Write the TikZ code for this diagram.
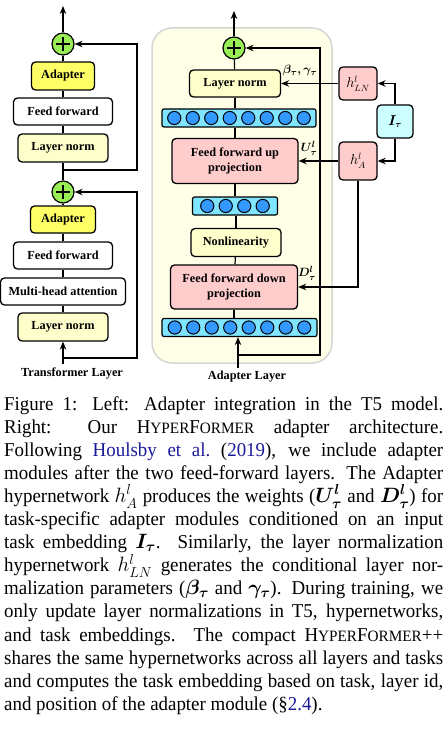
\documentclass[tikz,border=0pt]{standalone}
\usepackage{amsmath}
\usepackage{fontspec}
\setmainfont[FakeStretch=0.965]{Liberation Serif}
\newfontfamily\diagfont{Liberation Serif}
\usetikzlibrary{arrows.meta,calc}
\definecolor{adyel}{HTML}{FFFF66}
\definecolor{lnyel}{HTML}{FFFFCC}
\definecolor{pinkb}{HTML}{FFCCCC}
\definecolor{cyanb}{HTML}{CCFFFF}
\definecolor{rowc}{HTML}{80E5FF}
\definecolor{dotc}{HTML}{3399FF}
\definecolor{plusg}{HTML}{99EE55}
\definecolor{panelc}{HTML}{FFFFE8}
\definecolor{panelb}{HTML}{D5D5D5}
\definecolor{linkb}{HTML}{1A1A99}
\newcommand\boxfont{\diagfont\fontsize{12.3}{15.5}\selectfont\bfseries}
\newcommand\capfont{\fontsize{19.6}{23.1}\selectfont}
\newcommand\labfont{\fontsize{12.5}{14}\selectfont}
\newcommand\hfont{\fontsize{13.5}{15}\selectfont}
\newcommand\HFsc[1]{{\fontsize{15.8}{23.1}\selectfont #1}}
\newcommand\HF{H\HFsc{YPER}F\HFsc{ORMER}}
\newcommand\capline[1]{\hbox to 439pt{#1}}
\tikzset{
  box/.style={draw, line width=1.3pt, rounded corners=4pt, minimum height=27pt,
    inner sep=0pt, font=\boxfont, align=center},
  hbox/.style={draw, line width=1.3pt, rounded corners=4pt, inner sep=0pt,
    font=\hfont, fill=pinkb, minimum width=38pt},
  rowbox/.style={draw, line width=1.2pt, rounded corners=2pt, fill=rowc,
    minimum height=18pt, inner sep=0pt},
  plusnode/.style={circle, draw, line width=1.2pt, fill=plusg, minimum size=22pt,
    inner sep=0pt,
    path picture={
      \draw[line width=1.8pt] ([xshift=-7pt]path picture bounding box.center) -- ([xshift=7pt]path picture bounding box.center);
      \draw[line width=1.8pt] ([yshift=-7pt]path picture bounding box.center) -- ([yshift=7pt]path picture bounding box.center);}},
  conn/.style={line width=1.2pt},
  arr/.style={conn, -{Stealth[length=8pt,width=6.5pt]}},
  lab/.style={font=\labfont, inner sep=0pt},
  dot/.style={draw, line width=1pt, fill=dotc},
}
\begin{document}
\begin{tikzpicture}[x=1pt,y=-1pt]
\useasboundingbox (0,0) rectangle (446,730);
% ---------- left: transformer layer ----------
\node[plusnode] (p1) at (63,44) {};
\node[box, fill=adyel, minimum width=63pt, minimum height=28pt] (ad1) at (63,76) {Adapter};
\node[box, fill=white, minimum width=99pt] (ff1) at (63,111.5) {Feed forward};
\node[box, fill=lnyel, minimum width=90pt, minimum height=28pt] (ln1) at (63,148) {Layer norm};
\node[plusnode] (p2) at (63,192) {};
\node[box, fill=adyel, minimum width=65pt] (ad2) at (63,219.5) {Adapter};
\node[box, fill=white, minimum width=99pt] (ff2) at (63,255.5) {Feed forward};
\node[box, fill=white, minimum width=125pt] (mha) at (63,291.5) {Multi-head attention};
\node[box, fill=lnyel, minimum width=90pt, minimum height=28pt] (ln2) at (63,327) {Layer norm};
\coordinate (in1) at (63,364);
\coordinate (top1) at (63,6);
\coordinate (s1) at (63,170);
\coordinate (s1r) at (137,170);
\coordinate (s2) at (63,358);
\coordinate (s2r) at (137,358);
\node[font=\boxfont, inner sep=0pt] (tl) at (72,373) {Transformer Layer};
\draw[arr] (p1) -- (top1);
\draw[conn] (ad1) -- (p1);
\draw[conn] (ff1) -- (ad1);
\draw[conn] (ln1) -- (ff1);
\draw[conn] (p2) -- (ln1);
\draw[conn] (ad2) -- (p2);
\draw[conn] (ff2) -- (ad2);
\draw[conn] (mha) -- (ff2);
\draw[conn] (ln2) -- (mha);
\draw[arr] (in1) -- (ln2);
\draw[arr] (s1) -- (s1r) |- (p1);
\draw[arr] (s2) -- (s2r) |- (p2);
% ---------- right: adapter layer ----------
\draw[panelb, fill=panelc, line width=1.5pt, rounded corners=20pt] (152,28) rectangle (332,363);
\node[plusnode] (p3) at (234,48) {};
\node[box, fill=lnyel, minimum width=91pt] (ln3) at (235,83.5) {Layer norm};
\node[rowbox, minimum width=154pt] (r1) at (239,118) {};
\node[box, fill=pinkb, minimum width=126pt, minimum height=45pt] (ffu) at (235,161) {Feed forward up\\projection};
\node[rowbox, minimum width=85pt] (r2) at (235,206) {};
\node[box, fill=lnyel, minimum width=90pt, minimum height=28pt] (nl) at (236,242.5) {Nonlinearity};
\node[box, fill=pinkb, minimum width=127pt, minimum height=44pt] (ffd) at (234,287) {Feed forward down\\projection};
\node[rowbox, minimum width=155pt] (r3) at (239.5,327.5) {};
\foreach \i in {0,...,7} {
  \draw[dot] ($(r1.center)+({(\i-3.5)*18.5},0)$) circle (6.6);
  \draw[dot] ($(r3.center)+({(\i-3.5)*18.5},0)$) circle (6.6);
}
\foreach \i in {0,...,3} {
  \draw[dot] ($(r2.center)+({(\i-1.5)*18.5},0)$) circle (6.6);
}
\coordinate (top3) at (234,11);
\coordinate (in2) at (238,368);
\coordinate (s3) at (238,355);
\coordinate (s3r) at (320,355);
\node[font=\boxfont, inner sep=0pt] (al) at (247,377) {Adapter Layer};
\draw[arr] (p3) -- (top3);
\draw[conn] (ln3) -- (p3);
\draw[conn] (ln3.south) -- (ln3.south |- r1.north);
\draw[conn] (ffu.north) -- (ffu.north |- r1.south);
\draw[conn] (ffu.south) -- (ffu.south |- r2.north);
\draw[conn] (nl.north) -- (nl.north |- r2.south);
\draw[conn] (nl) -- (ffd);
\draw[conn] (ffd.south) -- (ffd.south |- r3.north);
\draw[arr] (in2) -- (in2 |- r3.south);
\draw[arr] (s3) -- (s3r) |- (p3);
% hypernetworks
\node[hbox, minimum height=33pt] (hln) at (358,83.5) {$h^l_{LN}$};
\node[hbox, minimum height=38pt] (ha) at (358,161) {$h^l_A$};
\node[hbox, fill=cyanb, minimum width=36pt, minimum height=33pt] (it) at (395,121.5) {$\boldsymbol{I_\tau}$};
\draw[arr] (it.north) |- (hln);
\draw[arr] (it.south) |- (ha);
\draw[arr] (hln) -- (ln3);
\draw[arr] (ha) -- (ffu);
\draw[arr] (ha.south) |- (ffd);
\node[lab] (lbg) at (300,71) {$\boldsymbol{\beta_\tau,\gamma_\tau}$};
\node[lab] (lu) at (309,148) {$\boldsymbol{U^l_\tau}$};
\node[lab] (ld) at (307,273) {$\boldsymbol{D^l_\tau}$};
% ---------- caption ----------
\node[anchor=north west, inner sep=0pt, font=\capfont] (cap) at (4,396) {\vbox{%
\hsize=439pt\baselineskip=23.1pt\lineskiplimit=-20pt
\capline{Figure 1: Left: Adapter integration in the T5 model.}
\capline{Right: Our \HF{} adapter architecture.}
\capline{Following \textcolor{linkb}{Houlsby et al.}\ (\textcolor{linkb}{2019}), we include adapter}
\capline{modules after the two feed-forward layers. The Adapter}
\capline{hypernetwork $h^l_A$ produces the weights ($\boldsymbol{U^l_\tau}$ and $\boldsymbol{D^l_\tau}$) for}
\capline{task-specific adapter modules conditioned on an input}
\capline{task embedding $\boldsymbol{I_\tau}$.\spacefactor3000{} Similarly, the layer normalization}
\capline{hypernetwork $h^l_{LN}$ generates the conditional layer nor-}
\capline{malization parameters ($\boldsymbol{\beta_\tau}$ and $\boldsymbol{\gamma_\tau}$). During training, we}
\capline{only update layer normalizations in T5, hypernetworks,}
\capline{and task embeddings. The compact \HF++}
\capline{shares the same hypernetworks across all layers and tasks}
\capline{and computes the task embedding based on task, layer id,}
\capline{and position of the adapter module (§\textcolor{linkb}{2.4}).\hfil}}};
\end{tikzpicture}
\end{document}
